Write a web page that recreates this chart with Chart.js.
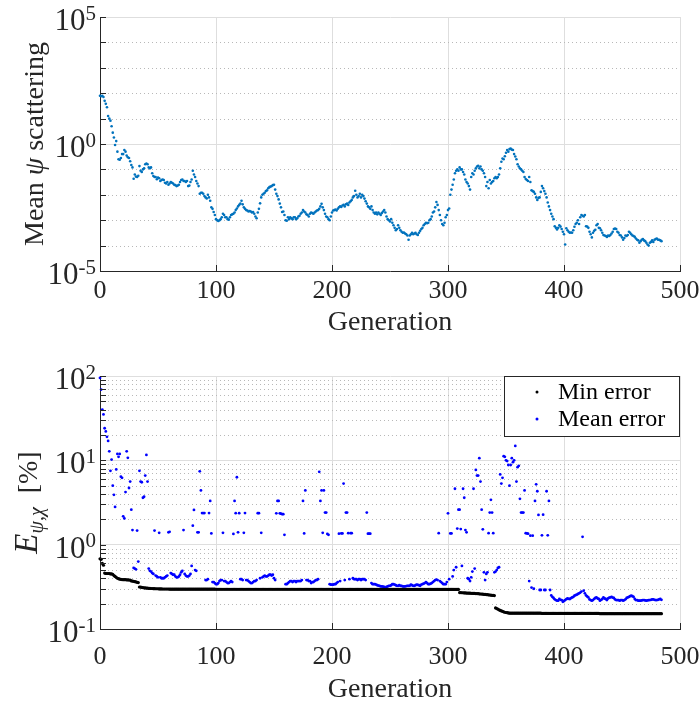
<!DOCTYPE html>
<html>
<head>
<meta charset="utf-8">
<script src="https://cdn.jsdelivr.net/npm/chart.js@4.4.0/dist/chart.umd.min.js"></script>
<style>
  html, body { margin: 0; padding: 0; background: #fff; overflow: hidden; }
  #wrap { position: relative; width: 699px; height: 702px; overflow: hidden; }
  canvas { position: absolute; left: 0; }
  #psiChart { top: 0; }
  #errChart { top: 340px; }
</style>
</head>
<body>
<div id="wrap">
  <canvas id="psiChart" width="699" height="340"></canvas>
  <canvas id="errChart" width="699" height="366"></canvas>
</div>
<script>
// axes
const xTicks = [0, 100, 200, 300, 400, 500];
const psiMajorTicks = [1e-5, 1, 1e5];
const psiMinorTicks = [1e-4, 1e-3, 1e-2, 1e-1, 1e1, 1e2, 1e3, 1e4];
const errMajorTicks = [0.1, 1, 10, 100];
const errMinorTicks = [0.2, 0.3, 0.4, 0.5, 0.6, 0.7, 0.8, 0.9, 2, 3, 4, 5, 6, 7, 8, 9, 20, 30, 40, 50, 60, 70, 80, 90];

// mean psi scattering, one value per generation (0..484)
const psiMean = [
  79, 76, 79, 71, 50, 38, 28, 12.6, 10, 8.3, 5.0, 2.8, 1.8, 0.91, 1.3, 0.5, 0.25, 0.24, 0.28, 0.4,
  0.4, 0.58, 0.5, 0.35, 0.3, 0.28, 0.21, 0.15, 0.12, 0.043, 0.063, 0.052, 0.05, 0.056, 0.135, 0.089, 0.079, 0.1, 0.11, 0.16,
  0.17, 0.16, 0.12, 0.11, 0.12, 0.071, 0.055, 0.05, 0.05, 0.041, 0.048, 0.045, 0.035, 0.038, 0.04, 0.038, 0.03, 0.028, 0.032, 0.025,
  0.028, 0.032, 0.03, 0.028, 0.025, 0.024, 0.022, 0.023, 0.025, 0.032, 0.038, 0.04, 0.035, 0.035, 0.032, 0.035, 0.022, 0.023, 0.032, 0.04,
  0.089, 0.063, 0.05, 0.035, 0.028, 0.022, 0.011, 0.012, 0.012, 0.011, 8.9e-3, 7.9e-3, 7.2e-3, 0.01, 7.9e-3, 5.8e-3, 3.2e-3, 2.8e-3, 2.1e-3, 1.6e-3,
  1.1e-3, 1.0e-3, 9.3e-4, 1.0e-3, 1.1e-3, 1.3e-3, 1.8e-3, 1.6e-3, 1.3e-3, 1.3e-3, 1.1e-3, 1.05e-3, 1.3e-3, 1.6e-3, 1.7e-3, 1.8e-3, 2.0e-3, 2.5e-3, 2.9e-3, 3.5e-3,
  4.0e-3, 4.5e-3, 5.8e-3, 4.2e-3, 3.2e-3, 2.8e-3, 2.5e-3, 2.4e-3, 2.2e-3, 2.3e-3, 2.2e-3, 2.0e-3, 2.1e-3, 1.8e-3, 1.4e-3, 1.2e-3, 2.0e-3, 2.8e-3, 4.6e-3, 7.9e-3,
  0.01, 0.011, 0.012, 0.014, 0.015, 0.018, 0.02, 0.021, 0.022, 0.024, 0.025, 0.016, 0.011, 8.9e-3, 6.6e-3, 4.5e-3, 3.2e-3, 2.1e-3, 2.2e-3, 1.6e-3,
  1.0e-3, 9.5e-4, 1.3e-3, 1.1e-3, 1.3e-3, 1.2e-3, 1.1e-3, 1.3e-3, 1.3e-3, 1.1e-3, 1.2e-3, 1.4e-3, 1.5e-3, 1.8e-3, 2.0e-3, 2.5e-3, 2.2e-3, 2.0e-3, 1.7e-3, 1.6e-3,
  1.4e-3, 1.8e-3, 2.0e-3, 1.9e-3, 1.8e-3, 2.0e-3, 2.2e-3, 2.4e-3, 2.5e-3, 2.8e-3, 3.5e-3, 4.4e-3, 3.2e-3, 2.5e-3, 1.8e-3, 1.4e-3, 1.3e-3, 1.1e-3, 1.0e-3, 1.4e-3,
  2.0e-3, 2.4e-3, 2.5e-3, 2.6e-3, 2.4e-3, 2.8e-3, 3.2e-3, 3.5e-3, 3.3e-3, 3.8e-3, 4.0e-3, 3.5e-3, 4.2e-3, 4.5e-3, 4.0e-3, 5.0e-3, 5.6e-3, 6.3e-3, 7.9e-3, 8.9e-3,
  0.0145, 0.01, 7.9e-3, 8.9e-3, 0.011, 7.9e-3, 0.01, 8.9e-3, 7.1e-3, 5.6e-3, 4.5e-3, 3.5e-3, 3.2e-3, 2.8e-3, 3.5e-3, 2.5e-3, 2.0e-3, 1.8e-3, 2.0e-3, 1.7e-3,
  2.0e-3, 1.8e-3, 1.6e-3, 1.9e-3, 2.2e-3, 2.5e-3, 2.0e-3, 1.4e-3, 1.1e-3, 1.0e-3, 8.9e-4, 1.1e-3, 7.9e-4, 6.3e-4, 5.0e-4, 4.0e-4, 4.5e-4, 6.3e-4, 5.0e-4, 4.0e-4,
  3.5e-4, 3.2e-4, 3.3e-4, 3.0e-4, 2.8e-4, 2.5e-4, 1.7e-4, 2.5e-4, 2.8e-4, 3.2e-4, 2.8e-4, 3.0e-4, 3.2e-4, 2.8e-4, 2.6e-4, 3.2e-4, 3.8e-4, 4.5e-4, 5.0e-4, 6.3e-4,
  7.1e-4, 7.9e-4, 7.6e-4, 7.9e-4, 1.0e-3, 1.1e-3, 1.4e-3, 2.0e-3, 2.2e-3, 3.2e-3, 5.2e-3, 4.0e-3, 2.5e-3, 1.6e-3, 1.0e-3, 7.1e-4, 6.3e-4, 7.9e-4, 1.3e-3, 1.6e-3,
  2.5e-3, 2.9e-3, 0.01, 0.016, 0.025, 0.04, 0.071, 0.089, 0.1, 0.089, 0.12, 0.1, 0.1, 0.079, 0.063, 0.04, 0.032, 0.028, 0.022, 0.016,
  0.05, 0.071, 0.063, 0.089, 0.11, 0.13, 0.14, 0.11, 0.13, 0.1, 0.089, 0.071, 0.05, 0.022, 0.032, 0.018, 0.038, 0.028, 0.032, 0.035,
  0.045, 0.05, 0.045, 0.05, 0.063, 0.11, 0.2, 0.27, 0.25, 0.33, 0.45, 0.58, 0.5, 0.63, 0.66, 0.6, 0.58, 0.4, 0.32, 0.25,
  0.16, 0.13, 0.11, 0.1, 0.089, 0.079, 0.05, 0.042, 0.038, 0.035, 0.05, 0.032, 0.015, 0.014, 0.013, 0.011, 7.9e-3, 6.3e-3, 7.6e-3, 7.9e-3,
  0.013, 0.022, 0.018, 0.014, 0.011, 7.9e-3, 5.0e-3, 3.5e-3, 2.5e-3, 1.8e-3, 1.4e-3, 1.1e-3, 5.8e-4, 5.0e-4, 4.3e-4, 5.0e-4, 6.3e-4, 5.6e-4, 4.5e-4, 3.5e-4,
  2.8e-4, 1.1e-4, 4.8e-4, 4.0e-4, 3.5e-4, 3.2e-4, 3.3e-4, 3.2e-4, 4.0e-4, 5.5e-4, 7.1e-4, 7.9e-4, 1.0e-3, 7.1e-4, 1.3e-3, 1.6e-3, 1.5e-3, 1.4e-3, 1.6e-3, 5.8e-4,
  5.6e-4, 5.0e-4, 3.5e-4, 2.8e-4, 2.1e-4, 3.2e-4, 3.8e-4, 4.2e-4, 6.3e-4, 7.1e-4, 5.0e-4, 4.8e-4, 4.0e-4, 3.2e-4, 2.6e-4, 2.5e-4, 2.4e-4, 2.2e-4, 2.5e-4, 2.4e-4,
  2.6e-4, 3.0e-4, 3.5e-4, 4.5e-4, 4.7e-4, 4.5e-4, 3.5e-4, 3.2e-4, 2.6e-4, 2.5e-4, 2.1e-4, 1.7e-4, 2.0e-4, 2.5e-4, 2.4e-4, 2.6e-4, 3.5e-4, 3.2e-4, 2.8e-4, 2.5e-4,
  2.4e-4, 2.2e-4, 1.9e-4, 1.7e-4, 1.6e-4, 1.3e-4, 1.5e-4, 1.7e-4, 1.8e-4, 1.6e-4, 1.5e-4, 1.3e-4, 1.1e-4, 1.0e-4, 1.3e-4, 1.4e-4, 1.6e-4, 1.4e-4, 1.7e-4, 1.8e-4,
  1.9e-4, 1.7e-4, 1.7e-4, 1.6e-4, 1.5e-4
];

// min error [%], one value per generation (0..484)
const minError = [
  0.68, 0.67, 0.6, 0.57, 0.46, 0.455, 0.455, 0.455, 0.455, 0.45, 0.45, 0.445, 0.43, 0.42, 0.41, 0.4, 0.395, 0.39, 0.388, 0.386,
  0.385, 0.385, 0.384, 0.383, 0.382, 0.381, 0.38, 0.372, 0.37, 0.368, 0.365, 0.362, 0.358, 0.355, 0.315, 0.314, 0.312, 0.31, 0.308, 0.307,
  0.306, 0.305, 0.304, 0.303, 0.302, 0.302, 0.301, 0.301, 0.3, 0.3, 0.3, 0.299, 0.299, 0.299, 0.298, 0.298, 0.298, 0.298, 0.298, 0.298,
  0.297, 0.297, 0.297, 0.297, 0.297, 0.297, 0.297, 0.297, 0.297, 0.297, 0.297, 0.297, 0.297, 0.297, 0.297, 0.297, 0.297, 0.297, 0.297, 0.297,
  0.297, 0.297, 0.297, 0.297, 0.297, 0.297, 0.297, 0.297, 0.297, 0.297, 0.297, 0.297, 0.297, 0.297, 0.297, 0.297, 0.297, 0.297, 0.297, 0.297,
  0.296, 0.296, 0.296, 0.296, 0.296, 0.296, 0.296, 0.296, 0.296, 0.296, 0.296, 0.296, 0.296, 0.296, 0.296, 0.296, 0.296, 0.296, 0.296, 0.296,
  0.296, 0.296, 0.296, 0.296, 0.296, 0.296, 0.296, 0.296, 0.296, 0.296, 0.296, 0.296, 0.296, 0.296, 0.296, 0.296, 0.296, 0.296, 0.296, 0.296,
  0.296, 0.296, 0.296, 0.296, 0.296, 0.296, 0.296, 0.296, 0.296, 0.296, 0.296, 0.296, 0.296, 0.296, 0.296, 0.296, 0.296, 0.296, 0.296, 0.296,
  0.296, 0.296, 0.296, 0.296, 0.296, 0.296, 0.296, 0.296, 0.296, 0.296, 0.296, 0.296, 0.296, 0.296, 0.296, 0.296, 0.296, 0.296, 0.296, 0.296,
  0.296, 0.296, 0.296, 0.296, 0.296, 0.296, 0.296, 0.296, 0.296, 0.296, 0.296, 0.296, 0.296, 0.296, 0.296, 0.296, 0.296, 0.296, 0.296, 0.296,
  0.295, 0.295, 0.295, 0.295, 0.295, 0.295, 0.295, 0.295, 0.295, 0.295, 0.295, 0.295, 0.295, 0.295, 0.295, 0.295, 0.295, 0.295, 0.295, 0.295,
  0.295, 0.295, 0.295, 0.295, 0.295, 0.295, 0.295, 0.295, 0.295, 0.295, 0.295, 0.295, 0.295, 0.295, 0.295, 0.295, 0.295, 0.295, 0.295, 0.295,
  0.295, 0.295, 0.295, 0.295, 0.295, 0.295, 0.295, 0.295, 0.295, 0.295, 0.295, 0.295, 0.295, 0.295, 0.295, 0.295, 0.295, 0.295, 0.295, 0.295,
  0.295, 0.295, 0.295, 0.295, 0.295, 0.295, 0.295, 0.295, 0.295, 0.295, 0.295, 0.295, 0.295, 0.295, 0.295, 0.295, 0.295, 0.295, 0.295, 0.295,
  0.295, 0.295, 0.295, 0.295, 0.295, 0.295, 0.295, 0.295, 0.295, 0.295, 0.295, 0.295, 0.295, 0.295, 0.295, 0.295, 0.295, 0.295, 0.295, 0.295,
  0.295, 0.295, 0.295, 0.295, 0.295, 0.295, 0.295, 0.295, 0.295, 0.295, 0.27, 0.27, 0.269, 0.269, 0.268, 0.268, 0.267, 0.267, 0.266, 0.266,
  0.265, 0.265, 0.264, 0.264, 0.263, 0.263, 0.262, 0.261, 0.26, 0.26, 0.259, 0.258, 0.257, 0.256, 0.255, 0.254, 0.253, 0.252, 0.251, 0.25,
  0.249, 0.178, 0.175, 0.172, 0.169, 0.166, 0.164, 0.162, 0.16, 0.158, 0.157, 0.156, 0.155, 0.154, 0.154, 0.154, 0.154, 0.154, 0.154, 0.154,
  0.154, 0.154, 0.154, 0.154, 0.154, 0.154, 0.154, 0.154, 0.154, 0.154, 0.154, 0.154, 0.154, 0.154, 0.154, 0.154, 0.154, 0.154, 0.154, 0.154,
  0.154, 0.153, 0.153, 0.153, 0.153, 0.153, 0.153, 0.153, 0.153, 0.153, 0.153, 0.153, 0.153, 0.153, 0.153, 0.153, 0.153, 0.153, 0.153, 0.153,
  0.153, 0.153, 0.153, 0.153, 0.153, 0.153, 0.153, 0.153, 0.153, 0.153, 0.153, 0.153, 0.153, 0.153, 0.153, 0.153, 0.153, 0.153, 0.153, 0.153,
  0.153, 0.153, 0.153, 0.153, 0.153, 0.153, 0.153, 0.153, 0.153, 0.153, 0.153, 0.152, 0.152, 0.152, 0.152, 0.152, 0.152, 0.152, 0.152, 0.152,
  0.152, 0.152, 0.152, 0.152, 0.152, 0.152, 0.152, 0.152, 0.152, 0.152, 0.152, 0.152, 0.152, 0.152, 0.152, 0.152, 0.152, 0.152, 0.152, 0.152,
  0.152, 0.152, 0.152, 0.152, 0.152, 0.152, 0.152, 0.152, 0.152, 0.152, 0.152, 0.152, 0.152, 0.152, 0.152, 0.152, 0.152, 0.152, 0.152, 0.152,
  0.152, 0.152, 0.152, 0.152, 0.152
];

// mean error [%], one value per generation (0..484)
const meanError = [
  95, 69, 40, 35, 24, 22, 19, 17, 12.8, 7.5, 10.2, 5.0, 3.9, 2.8, 7.8, 11.9, 11, 11.9, 6.4, 6.2,
  2.17, 2.05, 4.2, 12.8, 10.7, 4.7, 5.6, 2.6, 1.49, 0.53, 0.52, 0.51, 1.47, 0.63, 7.5, 5.6, 5.5, 3.6, 3.7, 6.6,
  11.6, 5.6, 0.52, 0.49, 0.48, 0.46, 0.45, 1.47, 0.43, 0.42, 0.41, 1.38, 0.41, 0.40, 0.40, 0.40, 0.41, 0.42, 0.43, 1.4,
  1.42, 0.46, 0.45, 0.44, 0.44, 0.42, 0.41, 0.41, 0.42, 0.44, 0.47, 0.49, 1.49, 0.45, 0.43, 0.42, 0.42, 0.43, 0.45, 0.56,
  1.68, 2.58, 0.5, 0.49, 1.4, 1.4, 7.4, 4.4, 2.37, 2.37, 2.37, 0.38, 0.38, 0.39, 2.37, 3.3, 1.36, 0.36, 0.36, 0.35,
  0.34, 0.34, 0.35, 0.37, 0.38, 0.38, 1.38, 0.37, 0.37, 0.36, 0.35, 0.35, 0.36, 0.37, 0.36, 1.34, 3.3, 2.36, 6.3, 1.4,
  2.36, 0.39, 0.39, 0.38, 1.38, 2.37, 0.38, 0.38, 0.37, 0.36, 0.35, 0.35, 0.36, 0.37, 0.37, 0.38, 2.36, 2.36, 0.40, 1.38,
  0.41, 0.42, 0.43, 0.42, 0.42, 0.43, 0.44, 0.44, 0.43, 0.44, 0.40, 0.38, 2.35, 3.3, 3.3, 2.35, 2.33, 2.3, 2.3, 1.31,
  0.34, 0.34, 0.35, 0.36, 0.37, 0.37, 0.36, 0.37, 0.37, 0.36, 0.37, 0.37, 0.37, 0.37, 0.38, 3.3, 1.36, 4.4, 0.38, 0.38,
  0.37, 0.37, 0.35, 0.36, 0.36, 0.37, 0.38, 0.38, 0.39, 7.3, 3.3, 4.4, 1.38, 4.4, 2.4, 2.4, 1.34, 1.31, 0.34, 0.335,
  0.335, 0.335, 0.34, 0.34, 0.35, 0.36, 1.35, 0.37, 1.36, 1.36, 5.3, 0.38, 2.4, 2.4, 1.37, 0.39, 1.37, 1.37, 0.40, 0.39,
  0.39, 0.39, 0.38, 0.39, 0.39, 0.38, 0.39, 0.39, 0.39, 0.38, 2.4, 1.35, 1.35, 1.35, 0.35, 0.34, 0.34, 0.34, 0.336, 0.33,
  0.327, 0.325, 0.32, 0.32, 0.318, 0.315, 0.31, 0.315, 0.32, 0.325, 0.325, 0.33, 0.34, 0.34, 0.335, 0.33, 0.325, 0.325, 0.33, 0.325,
  0.325, 0.32, 0.32, 0.32, 0.323, 0.325, 0.325, 0.325, 0.336, 0.33, 0.325, 0.325, 0.33, 0.336, 0.333, 0.33, 0.325, 0.336, 0.34, 0.345,
  0.35, 0.36, 0.35, 0.34, 0.34, 0.345, 0.35, 0.36, 0.37, 0.38, 0.385, 0.38, 1.37, 0.37, 0.36, 0.35, 0.34, 0.34, 0.34, 0.36,
  2.35, 0.39, 1.36, 1.36, 0.42, 0.5, 4.6, 0.54, 1.55, 2.6, 2.6, 1.53, 0.56, 4.6, 3.6, 1.49, 1.4, 0.4, 0.39, 0.37,
  0.41, 0.48, 4.6, 0.52, 7.7, 6.6, 6.6, 10.6, 5.6, 2.6, 1.52, 0.47, 0.38, 0.45, 0.47, 1.37, 2.4, 3.4, 2.4, 1.37,
  0.47, 0.48, 0.5, 0.53, 0.54, 6.8, 5.3, 6.2, 11.2, 11, 10, 9.8, 8.8, 5.0, 8.8, 10.6, 9.5, 10, 14.8, 5.6,
  8.3, 8.6, 3.5, 2.4, 2.4, 2.4, 4.4, 1.37, 1.36, 1.35, 0.37, 1.28, 0.31, 1.28, 0.30, 3.3, 5.2, 4.3, 2.25, 0.29,
  0.29, 1.29, 2.27, 0.29, 0.29, 4.3, 1.29, 3.3, 0.29, 0.25, 0.24, 0.233, 0.225, 0.22, 0.217, 0.217, 0.227, 0.222, 0.22, 0.21,
  0.215, 0.22, 0.226, 0.23, 0.228, 0.227, 0.232, 0.237, 0.24, 0.248, 0.252, 0.255, 0.26, 0.265, 0.27, 0.278, 1.24, 0.285, 0.265, 0.25,
  0.243, 0.237, 0.224, 0.22, 0.217, 0.22, 0.228, 0.233, 0.237, 0.23, 0.227, 0.217, 0.222, 0.227, 0.237, 0.23, 0.227, 0.22, 0.23, 0.235,
  0.237, 0.24, 0.236, 0.233, 0.224, 0.22, 0.22, 0.22, 0.217, 0.22, 0.22, 0.217, 0.22, 0.225, 0.233, 0.237, 0.24, 0.245, 0.248, 0.245,
  0.24, 0.227, 0.22, 0.22, 0.217, 0.217, 0.217, 0.218, 0.22, 0.22, 0.218, 0.217, 0.218, 0.22, 0.22, 0.222, 0.224, 0.224, 0.222, 0.22,
  0.22, 0.222, 0.225, 0.227, 0.222
];

const SERIF = '"Liberation Serif", "Times New Roman", serif';
const AXIS = '#262626';
const GRID = '#dedede';

const toPoints = arr => arr.map((y, gen) => ({ x: gen, y: y }));
const isSame = (a, b) => Math.abs(Math.log10(a) - Math.log10(b)) < 1e-6;

// draws dotted minor grid, inward ticks, 10^n labels, y title (and legend)
function decorPlugin(opts) {
  return {
    id: 'decor',
    beforeDatasetsDraw(chart) {
      const { ctx, chartArea: a, scales: { y } } = chart;
      ctx.save();
      ctx.strokeStyle = '#b8b8b8';
      ctx.lineWidth = 1;
      ctx.setLineDash([1, 3]);
      opts.yMinors.forEach(v => {
        const py = Math.round(y.getPixelForValue(v)) + 0.5;
        ctx.beginPath();
        ctx.moveTo(a.left, py);
        ctx.lineTo(a.right, py);
        ctx.stroke();
      });
      ctx.restore();
    },
    afterDraw(chart) {
      const { ctx, chartArea: a, scales: { x, y } } = chart;
      ctx.save();
      // ticks pointing inward
      ctx.strokeStyle = AXIS;
      ctx.lineWidth = 1;
      ctx.beginPath();
      xTicks.forEach(v => {
        const px = Math.round(x.getPixelForValue(v)) + 0.5;
        ctx.moveTo(px, a.bottom);
        ctx.lineTo(px, a.bottom - 6);
      });
      opts.yMajors.concat(opts.yMinors).forEach(v => {
        const py = Math.round(y.getPixelForValue(v)) + 0.5;
        ctx.moveTo(a.left, py);
        ctx.lineTo(a.left + 6, py);
      });
      ctx.stroke();

      // y tick labels 10^n
      ctx.fillStyle = AXIS;
      ctx.textBaseline = 'middle';
      opts.yMajors.forEach(v => {
        const py = y.getPixelForValue(v);
        const exp = String(Math.round(Math.log10(v)));
        ctx.font = '21px ' + SERIF;
        const ew = ctx.measureText(exp).width;
        const right = a.left - 4;
        ctx.textAlign = 'right';
        ctx.fillText(exp, right, py - 3);
        ctx.font = '31px ' + SERIF;
        ctx.fillText('10', right - ew, py + 5);
      });

      // y title, rotated, made of runs
      ctx.save();
      ctx.translate(opts.titleX, (a.top + a.bottom) / 2);
      ctx.rotate(-Math.PI / 2);
      ctx.textBaseline = 'alphabetic';
      ctx.textAlign = 'left';
      let total = 0;
      opts.title.forEach(r => { ctx.font = r.font; r.w = ctx.measureText(r.text).width; total += r.w; });
      let tx = -total / 2;
      opts.title.forEach(r => {
        ctx.font = r.font;
        ctx.fillText(r.text, tx, r.dy || 0);
        tx += r.w;
      });
      ctx.restore();

      // legend box
      if (opts.legend) {
        const lw = 175, lh = 60;
        const lx = Math.round(a.right) - lw - 1, ly = Math.round(a.top);
        ctx.fillStyle = '#fff';
        ctx.fillRect(lx, ly, lw, lh);
        ctx.strokeStyle = AXIS;
        ctx.strokeRect(lx + 0.5, ly + 0.5, lw, lh);
        chart.data.datasets.forEach((ds, i) => {
          const cy = ly + 16 + i * 27;
          ctx.fillStyle = ds.backgroundColor;
          ctx.beginPath();
          ctx.arc(lx + 33, cy, 1.5, 0, 2 * Math.PI);
          ctx.fill();
          ctx.fillStyle = '#000';
          ctx.font = '24px ' + SERIF;
          ctx.textAlign = 'left';
          ctx.textBaseline = 'middle';
          ctx.fillText(ds.label, lx + 54, cy + 1);
        });
      }
      ctx.restore();
    }
  };
}

function makeOptions(cfg) {
  return {
    responsive: false,
    devicePixelRatio: 1,
    animation: false,
    events: [],
    layout: { padding: { left: 0, right: 19, top: cfg.padTop, bottom: 0 } },
    plugins: { legend: { display: false }, tooltip: { enabled: false } },
    scales: {
      x: {
        type: 'linear',
        min: 0,
        max: 500,
        afterBuildTicks: s => { s.ticks = xTicks.map(v => ({ value: v })); },
        afterFit: s => { s.height = cfg.xHeight; s.paddingLeft = 0; s.paddingRight = 0; },
        ticks: { color: AXIS, padding: cfg.xLabelPad, font: { family: SERIF, size: 26 }, maxRotation: 0 },
        grid: { drawTicks: false, color: c => (c.tick && c.tick.value === 0) ? 'rgba(0,0,0,0)' : GRID },
        border: { display: true, color: AXIS, width: 1 },
        title: { display: true, text: 'Generation', color: AXIS, font: { family: SERIF, size: 28 }, padding: { top: 0, bottom: cfg.titlePad } }
      },
      y: {
        type: 'logarithmic',
        min: cfg.yMajors[0],
        max: cfg.yMajors[cfg.yMajors.length - 1],
        afterBuildTicks: s => { s.ticks = cfg.yMajors.map(v => ({ value: v })); },
        afterFit: s => { s.width = 100; s.paddingTop = 0; s.paddingBottom = 0; },
        ticks: { display: false, autoSkip: false },
        grid: { drawTicks: false, color: c => (c.tick && isSame(c.tick.value, cfg.yMajors[0])) ? 'rgba(0,0,0,0)' : GRID },
        border: { display: true, color: AXIS, width: 1 }
      }
    }
  };
}

new Chart(document.getElementById('psiChart'), {
  type: 'scatter',
  data: {
    datasets: [{
      label: 'Mean psi scattering',
      data: toPoints(psiMean),
      backgroundColor: '#0072bd',
      pointRadius: 1.3,
      pointBorderWidth: 0,
      pointHoverRadius: 0,
      clip: false
    }]
  },
  options: makeOptions({ padTop: 17, xHeight: 69, xLabelPad: 5, titlePad: 1, yMajors: psiMajorTicks }),
  plugins: [decorPlugin({
    yMajors: psiMajorTicks,
    yMinors: psiMinorTicks,
    titleX: 43,
    title: [
      { text: 'Mean ', font: '28px ' + SERIF },
      { text: 'ψ', font: 'italic 28px ' + SERIF },
      { text: ' scattering', font: '28px ' + SERIF }
    ]
  })]
});

new Chart(document.getElementById('errChart'), {
  type: 'scatter',
  data: {
    datasets: [
      {
        label: 'Min error',
        data: toPoints(minError),
        backgroundColor: '#000000',
        pointRadius: 1.6,
        pointBorderWidth: 0,
        pointHoverRadius: 0,
        clip: false
      },
      {
        label: 'Mean error',
        data: toPoints(meanError),
        backgroundColor: '#0000ff',
        pointRadius: 1.4,
        pointBorderWidth: 0,
        pointHoverRadius: 0,
        clip: false
      }
    ]
  },
  options: makeOptions({ padTop: 36, xHeight: 77, xLabelPad: 13, titlePad: 0, yMajors: errMajorTicks }),
  plugins: [decorPlugin({
    yMajors: errMajorTicks,
    yMinors: errMinorTicks,
    titleX: 37,
    legend: true,
    title: [
      { text: 'E', font: 'italic 33px ' + SERIF },
      { text: 'ψ,χ', font: 'italic 20px ' + SERIF, dy: 6 },
      { text: '  [%]', font: '28px ' + SERIF }
    ]
  })]
});
</script>
</body>
</html>
